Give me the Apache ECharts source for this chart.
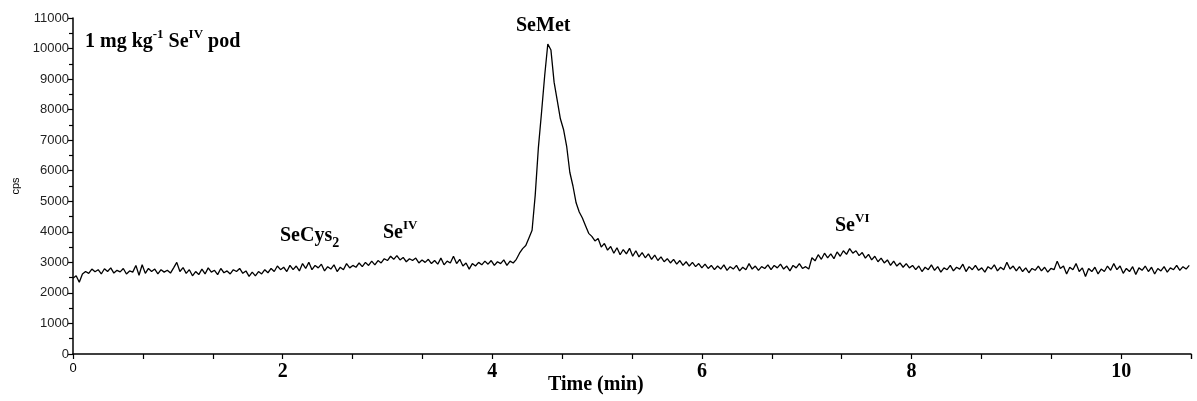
<!DOCTYPE html>
<html>
<head>
<meta charset="utf-8">
<script src="https://cdn.jsdelivr.net/npm/echarts@6/dist/echarts.min.js"></script>
<style>
html,body{margin:0;padding:0;background:#fff;}
#chart{width:1197px;height:401px;}
</style>
</head>
<body>
<div id="chart"></div>
<script>
const STEP = 0.03;
const SEG_START = [0, 2.01, 4.26, 5.43, 7.05, 7.98];
// 0 – 1.98 min : baseline
const segA = [2480,2560,2350,2620,2700,2640,2780,2690,2760,2620,2790,2700,2820,2650,2740,2690,2800,2620,2720,2680,
  2900,2580,2920,2640,2800,2700,2780,2620,2760,2680,2740,2650,2820,3000,2700,2830,2640,2760,2560,2700,
  2600,2780,2620,2820,2680,2740,2600,2800,2660,2720,2620,2760,2700,2800,2640,2720,2540,2680,2560,2700,
  2620,2760,2660,2800,2700,2880,2760];
// 2.01 – 4.23 min : SeCys2 and SeIV region
const segB = [2840,2700,2900,2760,2880,2720,2960,2800,3000,2760,2900,2820,2940,2720,2860,2780,2920,2700,2840,2760,
  2960,2820,2900,2840,2980,2860,3000,2900,3040,2920,3060,2980,3120,3060,3200,3100,3220,3080,3160,3020,
  3120,3060,3140,2980,3080,3000,3100,2960,3060,2940,3140,2920,3040,2980,3200,2960,3100,2880,2980,2780,
  2960,2880,3000,2920,3040,2940,3060,2900,3020,2960,3080,2900,3040,2980,3100];
// 4.26 – 5.40 min : SeMet peak
const segC = [3300,3450,3550,3800,4050,5200,6750,7900,9100,10150,9950,8900,8300,7700,7350,6800,5950,5500,4950,4650,
  4450,4200,3950,3850,3700,3780,3500,3620,3400,3520,3300,3480,3250,3420,3280,3460,3200,3380,3180];
// 5.43 – 7.02 min : tail
const segD = [3320,3150,3280,3100,3240,3060,3180,3020,3120,2980,3100,2940,3060,2900,3020,2880,3000,2860,2960,2820,
  2940,2800,2900,2760,2880,2780,2920,2740,2860,2780,2900,2720,2840,2760,2960,2780,2880,2740,2860,2800,
  2920,2760,2900,2820,2940,2780,2880,2720,2900,2820,2960,2800,2860,2780];
// 7.05 – 7.95 min : SeVI
const segE = [3150,3050,3250,3100,3300,3150,3280,3120,3340,3200,3380,3260,3450,3300,3380,3220,3320,3140,3260,3080,
  3200,3020,3140,2980,3080,2900,3040,2880,2980,2840,2960];
// 7.98 – 10.68 min : baseline
const segF = [2820,2900,2760,2880,2700,2840,2760,2920,2740,2860,2680,2820,2760,2900,2720,2840,2780,2940,2700,2860,
  2760,2900,2740,2820,2680,2860,2780,2920,2720,2840,2760,3000,2780,2880,2720,2860,2700,2820,2660,2800,
  2740,2880,2720,2840,2680,2800,2760,3040,2800,2880,2620,2840,2760,2960,2700,2820,2540,2800,2700,2840,
  2620,2780,2700,2880,2740,2960,2760,2880,2640,2800,2700,2860,2600,2820,2740,2880,2700,2840,2620,2800,
  2720,2860,2680,2820,2760,2900,2740,2860,2780,2900,2820];
const SEGMENTS = [segA, segB, segC, segD, segE, segF];

const Y_TICKS = {min: 0, max: 11000, step: 1000};
const X_LABELS = [0, 2, 4, 6, 8, 10];
const X_MAX = 32 / 3;

// build [time, cps] pairs
const trace = [];
SEGMENTS.forEach((seg, s) => {
  seg.forEach((v, i) => {
    const t = +(SEG_START[s] + i * STEP).toFixed(3);
    if (t <= X_MAX + 1e-9) trace.push([t, v]);
  });
});

const serif = '"Liberation Serif", "Times New Roman", serif';
const sans = '"Liberation Sans", Arial, sans-serif';

const chart = echarts.init(document.getElementById('chart'), null, {renderer: 'canvas'});

const bold = {fontFamily: serif, fontWeight: 'bold', fontSize: 20, lineHeight: 28, color: '#000'};
const sup = {fontFamily: serif, fontWeight: 'bold', fontSize: 13, lineHeight: 12, verticalAlign: 'top', color: '#000'};
const sub = {fontFamily: serif, fontWeight: 'bold', fontSize: 14, lineHeight: 18, verticalAlign: 'bottom', color: '#000'};
const richAnno = {n: bold, sup: sup, sub: sub};

chart.setOption({
  animation: false,
  backgroundColor: '#fff',
  grid: {left: 73, right: 6, top: 18, bottom: 47, containLabel: false},
  xAxis: {
    type: 'value',
    min: 0,
    max: X_MAX,
    interval: 2 / 3,
    axisLine: {show: true, lineStyle: {color: '#000', width: 1.5}},
    axisTick: {show: true, length: 5, lineStyle: {color: '#000', width: 1.2}},
    splitLine: {show: false},
    axisLabel: {
      margin: 8,
      showMaxLabel: true,
      formatter: function (v) {
        const k = Math.round(v);
        if (Math.abs(v - k) > 1e-6 || X_LABELS.indexOf(k) < 0) return '';
        return k === 0 ? '{z|0}' : '{b|' + k + '}';
      },
      rich: {
        z: {fontFamily: sans, fontSize: 13, color: '#000'},
        b: {fontFamily: serif, fontWeight: 'bold', fontSize: 20, color: '#000'}
      }
    }
  },
  yAxis: {
    type: 'value',
    min: Y_TICKS.min,
    max: Y_TICKS.max,
    interval: Y_TICKS.step,
    name: 'cps',
    nameLocation: 'middle',
    nameGap: 52,
    nameRotate: 90,
    nameTextStyle: {fontFamily: sans, fontSize: 11, color: '#000'},
    axisLine: {show: true, lineStyle: {color: '#000', width: 1.5}},
    axisTick: {show: true, length: 5, lineStyle: {color: '#000', width: 1.2}},
    minorTick: {show: true, splitNumber: 2, length: 4, lineStyle: {color: '#000', width: 1.2}},
    splitLine: {show: false},
    axisLabel: {
      fontFamily: sans, fontSize: 13, color: '#222', margin: 4,
      formatter: function (v) { return String(v); }
    }
  },
  series: [{
    type: 'line',
    data: trace,
    showSymbol: false,
    symbol: 'none',
    lineStyle: {color: '#000', width: 1.3},
    z: 3
  }],
  graphic: [
    {type: 'text', left: 85, top: 28, style: {text: '{n|1 mg kg}{sup|-1}{n| Se}{sup|IV}{n| pod}', rich: richAnno}},
    {type: 'text', left: 516, top: 16, style: {text: '{n|SeMet}', rich: richAnno}},
    {type: 'text', left: 280, top: 226, style: {text: '{n|SeCys}{sub|2}', rich: richAnno}},
    {type: 'text', left: 383, top: 219, style: {text: '{n|Se}{sup|IV}', rich: richAnno}},
    {type: 'text', left: 835, top: 212, style: {text: '{n|Se}{sup|VI}', rich: richAnno}},
    {type: 'text', left: 548, top: 375, style: {text: 'Time (min)', font: 'bold 20px ' + serif, fill: '#000'}}
  ]
});
</script>
</body>
</html>
